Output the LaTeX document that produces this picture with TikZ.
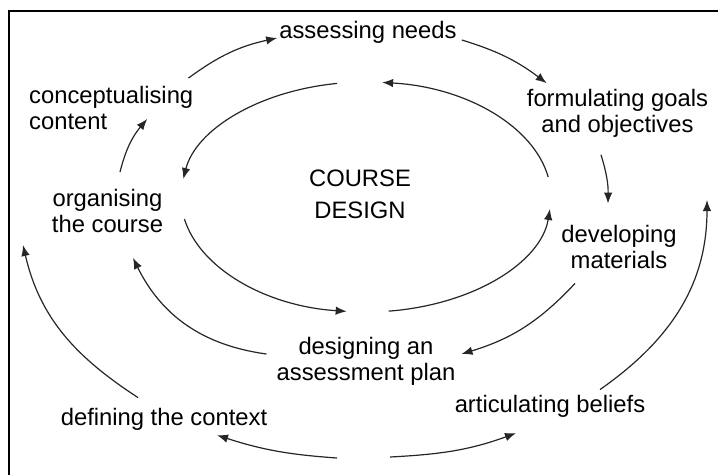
\documentclass[tikz,border=0pt]{standalone}
\usepackage{fontspec}
\setmainfont{Liberation Sans}
\usetikzlibrary{arrows.meta}

\begin{document}
\begin{tikzpicture}[x=1pt, y=1pt, >={Latex[length=11pt, width=8.5pt]},
    every node/.style={inner sep=0pt, align=center, font=\fontsize{23.8}{26}\selectfont}]
    \useasboundingbox (0,0) rectangle (718,-475);
    \draw[line width=1.6pt] (718,-11) -- (9,-11) -- (9,-475);

    \node[anchor=base] (needs) at (368,-38) {assessing needs};
    \node[anchor=west, align=left] (content) at (29,-108) {conceptualising\\content};
    \node (goals) at (617.5,-113.5) {formulating goals\\and objectives};
    \node[font=\fontsize{23.8}{32}\selectfont] (course) at (360,-194.5) {COURSE\\DESIGN};
    \node (organise) at (107.5,-211) {organising\\the course};
    \node (materials) at (619,-246.5) {developing\\materials};
    \node (assessment) at (366,-361.5) {designing an\\assessment plan};
    \node[anchor=base] (context) at (164,-425) {defining the context};
    \node[anchor=base] (beliefs) at (550,-412) {articulating beliefs};

    \coordinate (hub) at (366,-197);
    \coordinate (bottom-l) at (337,-458);
    \coordinate (bottom-r) at (390,-457);
    \coordinate (context-top) at (23,-245);
    \coordinate (beliefs-top) at (707,-200);

    \begin{scope}[every path/.style={->, black!85, line width=1.2pt}]
       % inner ring
       \foreach \a/\b in {10/85, 99/171, 191/264, 277/354}
          \draw ([shift={(\a:185 and 115)}]hub) arc[start angle=\a, end angle=\b, x radius=185, y radius=115];

       % middle ring
       \draw ([shift={(-5,8)}]content.north east) to[bend left=12] ([xshift=-2]needs.base west);
       \draw ([shift={(5,-2)}]needs.base east) to[bend left=10] ([shift={(20,6)}]goals.north west);
       \draw ([shift={(-16.5,-17)}]goals.south) to[bend left=9] ([shift={(-11,21)}]materials.north);
       \draw ([shift={(-44,-15)}]materials.south) to[bend left=15] ([shift={(6,7.5)}]assessment.east);
       \draw ([shift={(-10,7.5)}]assessment.west) to[bend left=28] ([shift={(25.5,-25)}]organise.south);
       \draw ([shift={(12.5,17)}]organise.north) to[bend left=13] ([shift={(36,11)}]content.south);

       % outer ring
       \draw (bottom-l) to[out=176, in=342] ([shift={(53,-5)}]context.south);
       \draw ([shift={(-26,10)}]context.north) to[out=147, in=283] (context-top);
       \draw (bottom-r) to[out=3, in=200] ([shift={(-34,-16)}]beliefs.south);
       \draw ([shift={(50,5)}]beliefs.north) to[out=35, in=270] (beliefs-top);
    \end{scope}
\end{tikzpicture}
\end{document}
